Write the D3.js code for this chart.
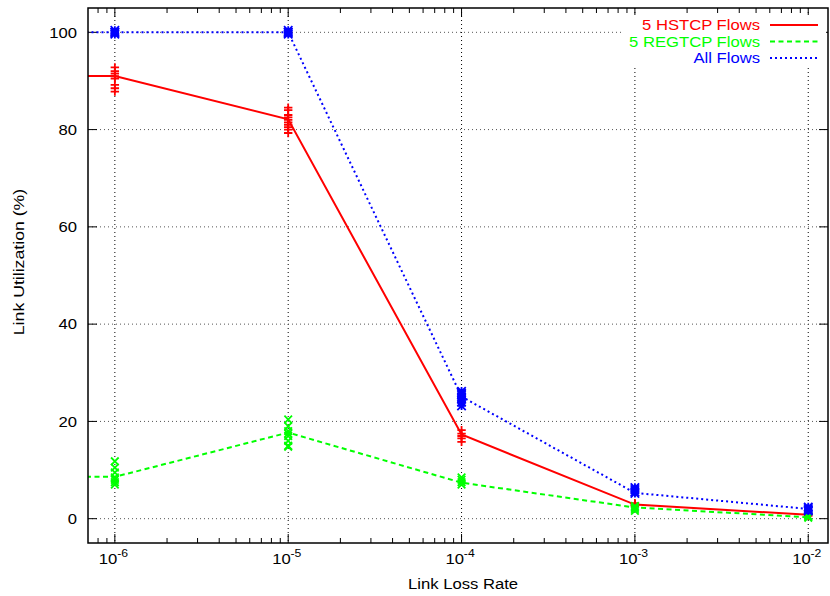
<!DOCTYPE html>
<html>
<head>
<meta charset="utf-8">
<script src="https://cdn.jsdelivr.net/npm/d3@7/dist/d3.min.js"></script>
<style>
  body { margin: 0; background: #fff; }
  text { font-family: "Liberation Sans", Arial, sans-serif; }
</style>
</head>
<body>
<div id="graph"></div>
<script>
// loss rates (x); first one lies left of the plotted range, line gets clipped
var lossRates = [1e-7, 1e-6, 1e-5, 1e-4, 1e-3, 1e-2];
var xTickValues = [1e-6, 1e-5, 1e-4, 1e-3, 1e-2];
var xTickExps = ["-6", "-5", "-4", "-3", "-2"];
var yTickValues = [0, 20, 40, 60, 80, 100];

// mean link utilization (%)
var hstcpMean  = [91, 91, 82.1, 17.3, 2.9, 0.8];
var regtcpMean = [8.6, 8.6, 17.7, 7.4, 2.3, 0.3];
var allMean    = [100, 100, 100, 25.1, 5.3, 2.0];

// individual runs at each loss rate
var hstcpRuns = [
  [],
  [92.8, 92, 91.5, 91, 90.5, 89.2, 88.5, 87.8],
  [84.5, 84, 83, 82.5, 82, 81.5, 81, 80.5, 80, 79.3],
  [18.2, 17.5, 17, 16.5, 15.8],
  [3.2, 3, 2.8, 2.6],
  [1, 0.8, 0.6]
];
var regtcpRuns = [
  [],
  [11.8, 10.5, 9.5, 8.5, 8, 7.5, 7],
  [20.4, 19, 18, 17.5, 17, 16, 15, 14.8],
  [8.5, 8, 7.5, 7],
  [2.6, 2.3, 2, 1.6],
  [0.6, 0.4, 0.2]
];
var allRuns = [
  [],
  [100.4, 100, 99.6, 100],
  [100.4, 100, 99.6, 100],
  [26.2, 25.8, 25.5, 25, 24.5, 24, 23.2],
  [6.4, 6, 5.5, 5.2],
  [2.4, 2.1, 1.8, 1.6]
];

var seriesNames = ["5 HSTCP Flows", "5 REGTCP Flows", "All Flows"];
var seriesColors = ["#ff0000", "#00ff00", "#0000ff"];

var W = 830, H = 596;
var pLeft = 88, pRight = 828, pTop = 8, pBottom = 543;
var fs = 15, sx = 1.11; // glyphs in the reference are a bit wide

var svg = d3.select("#graph").append("svg")
  .attr("width", W).attr("height", H);

var x = d3.scaleLog().domain([7e-7, 1.3e-2]).range([pLeft, pRight]);
var y = d3.scaleLinear().domain([-5, 105]).range([pBottom, pTop]);

svg.append("defs").append("clipPath").attr("id", "clip")
  .append("rect").attr("x", pLeft).attr("y", pTop)
  .attr("width", pRight - pLeft).attr("height", pBottom - pTop);

// grid
var grid = svg.append("g");
grid.selectAll("line.gx").data(xTickValues).enter().append("line")
  .attr("x1", function(d) { return x(d); }).attr("x2", function(d) { return x(d); })
  .attr("y1", pTop).attr("y2", pBottom)
  .attr("stroke", "#000").attr("stroke-width", 1).attr("stroke-dasharray", "1,3");
grid.selectAll("line.gy").data(yTickValues).enter().append("line")
  .attr("x1", pLeft).attr("x2", pRight)
  .attr("y1", function(d) { return y(d); }).attr("y2", function(d) { return y(d); })
  .attr("stroke", "#555").attr("stroke-width", 1).attr("stroke-dasharray", "1,3");

// ticks (inward, mirrored)
var minor = [];
for (var e = -7; e <= -2; e++) {
  for (var m = 2; m <= 9; m++) {
    var v = m * Math.pow(10, e);
    if (v > 7e-7 && v < 1.3e-2) minor.push(v);
  }
}
var ticks = svg.append("g").attr("stroke", "#000").attr("stroke-width", 1);
[pBottom, pTop].forEach(function(edge) {
  var dir = edge === pBottom ? -1 : 1;
  ticks.selectAll(null).data(xTickValues).enter().append("line")
    .attr("x1", function(d) { return x(d); }).attr("x2", function(d) { return x(d); })
    .attr("y1", edge).attr("y2", edge + dir * 9);
  ticks.selectAll(null).data(minor).enter().append("line")
    .attr("x1", function(d) { return x(d); }).attr("x2", function(d) { return x(d); })
    .attr("y1", edge).attr("y2", edge + dir * 5);
});
[pLeft, pRight].forEach(function(edge) {
  var dir = edge === pLeft ? 1 : -1;
  ticks.selectAll(null).data(yTickValues).enter().append("line")
    .attr("x1", edge).attr("x2", edge + dir * 9)
    .attr("y1", function(d) { return y(d); }).attr("y2", function(d) { return y(d); });
});

// tick labels
svg.selectAll("g.ylab").data(yTickValues).enter().append("g")
  .attr("transform", function(d) { return "translate(77," + (y(d) + 5.3) + ") scale(" + sx + ",1)"; })
  .append("text").attr("text-anchor", "end").attr("font-size", fs)
  .text(function(d) { return d; });

var xl = svg.selectAll("g.xlab").data(xTickValues).enter().append("g")
  .attr("transform", function(d) { return "translate(" + (x(d) - 16) + ",564) scale(" + sx + ",1)"; });
xl.append("text").attr("font-size", fs).text("10");
xl.append("text").attr("font-size", 11).attr("x", 16.5).attr("y", -7)
  .text(function(d, i) { return xTickExps[i]; });

// axis titles
svg.append("g").attr("transform", "translate(463,589) scale(" + sx + ",1)")
  .append("text").attr("text-anchor", "middle").attr("font-size", fs).text("Link Loss Rate");
svg.append("g").attr("transform", "translate(24,262) rotate(-90) scale(1.18,1)")
  .append("text").attr("text-anchor", "middle").attr("font-size", fs).text("Link Utilization (%)");

// data
var plot = svg.append("g").attr("clip-path", "url(#clip)");
var means = [hstcpMean, regtcpMean, allMean];
var runs = [hstcpRuns, regtcpRuns, allRuns];
var dashes = [null, "5,3.5", "2,3"];

var line = d3.line()
  .x(function(d) { return x(d[0]); })
  .y(function(d) { return y(d[1]); });

function markerPath(kind, r) {
  var p = "";
  if (kind === 0 || kind === 2) p += "M" + (-r) + ",0H" + r + "M0," + (-r) + "V" + r;
  if (kind === 1 || kind === 2) p += "M" + (-r) + "," + (-r) + "L" + r + "," + r + "M" + (-r) + "," + r + "L" + r + "," + (-r);
  return p;
}

means.forEach(function(mean, s) {
  var pts = lossRates.map(function(lr, i) { return [lr, mean[i]]; });
  plot.append("path").datum(pts)
    .attr("d", line)
    .attr("fill", "none")
    .attr("stroke", seriesColors[s])
    .attr("stroke-width", 2)
    .attr("stroke-dasharray", dashes[s]);

  var runPts = [];
  runs[s].forEach(function(vals, i) {
    vals.forEach(function(v) { runPts.push([lossRates[i], v]); });
  });
  plot.selectAll(null).data(runPts).enter().append("path")
    .attr("transform", function(d) { return "translate(" + x(d[0]) + "," + y(d[1]) + ")"; })
    .attr("d", markerPath(s, s === 1 ? 3.8 : 4.2))
    .attr("fill", "none")
    .attr("stroke", seriesColors[s])
    .attr("stroke-width", 1.8);
});

// legend
var legend = svg.append("g");
legend.append("rect").attr("x", 622).attr("y", 15).attr("width", 204).attr("height", 51)
  .attr("fill", "#fff");
seriesNames.forEach(function(name, s) {
  var ly = 25 + s * 16.5;
  legend.append("g").attr("transform", "translate(760," + (ly + 5.3) + ") scale(" + sx + ",1)")
    .append("text").attr("text-anchor", "end").attr("font-size", fs)
    .attr("fill", seriesColors[s]).text(name);
  legend.append("line").attr("x1", 770).attr("x2", 818).attr("y1", ly).attr("y2", ly)
    .attr("stroke", seriesColors[s]).attr("stroke-width", 2)
    .attr("stroke-dasharray", dashes[s]);
});

// frame
svg.append("rect").attr("x", pLeft).attr("y", pTop)
  .attr("width", pRight - pLeft).attr("height", pBottom - pTop)
  .attr("fill", "none").attr("stroke", "#000").attr("stroke-width", 1.5);
</script>
</body>
</html>
